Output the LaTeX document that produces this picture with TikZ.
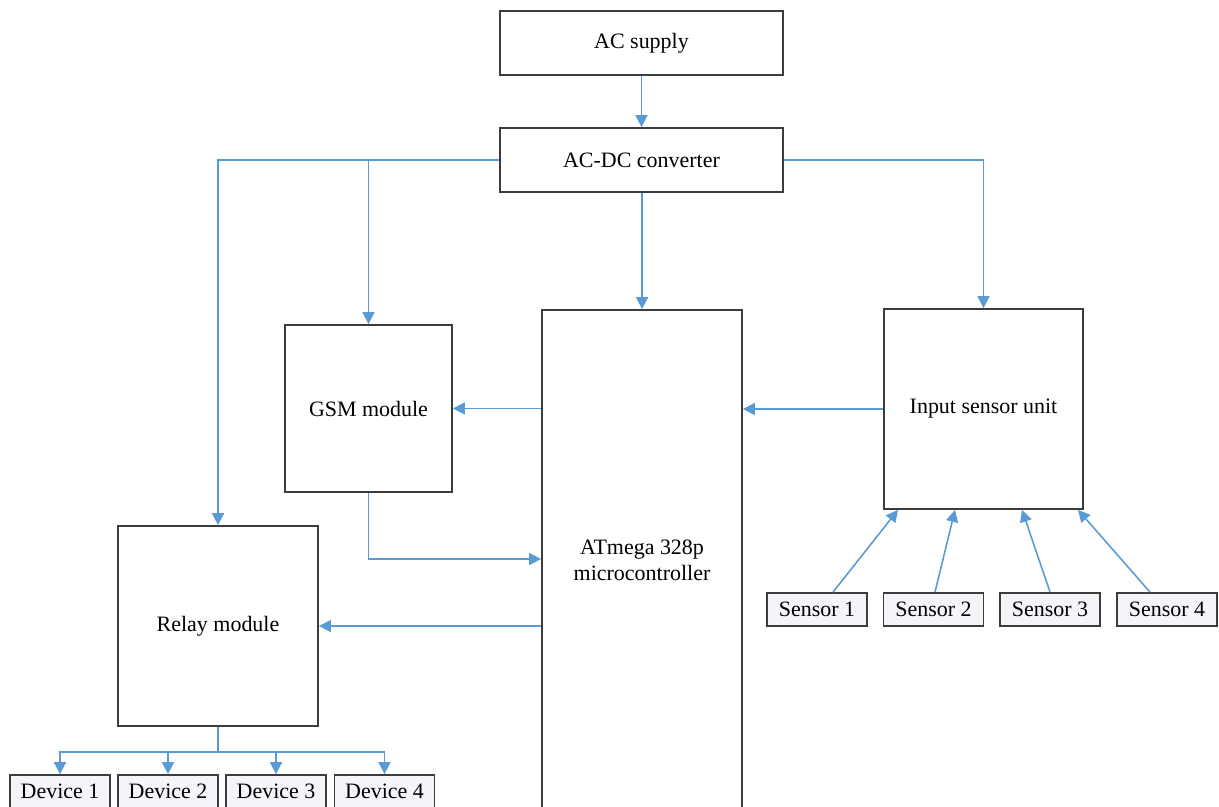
\documentclass[tikz,border=0pt]{standalone}
\usepackage{fontspec}
\setmainfont{Liberation Serif}
\usepackage{tikz}
\usetikzlibrary{positioning, arrows.meta, calc}
\definecolor{line-blue}{HTML}{5B9BD5}
\definecolor{edge-dark}{HTML}{3C3C3C}
\definecolor{tag-fill}{HTML}{F3F5F9}

\def\px{0.02cm}

\begin{document}
\begin{tikzpicture}[
    x=\px, y=-\px,
    block/.style={draw=edge-dark, line width=1pt, fill=white, inner sep=0pt,
        font=\fontsize{12.5}{15}\selectfont, align=center},
    tag/.style={block, fill=tag-fill, minimum width=100*\px, minimum height=33*\px},
    wire/.style={line-blue, line width=0.9pt},
    feed/.style={wire, -{Triangle[width=0.24cm, length=0.24cm]}},
]
    \clip (0,0) rectangle (1219,807);

    % Power chain
    \node[block, minimum width=283*\px, minimum height=64*\px] (supply) at (641.5,43) {AC supply};
    \node[block, minimum width=283*\px, minimum height=64*\px] (conv) at (641.5,160) {AC-DC converter};

    % Main units
    \node[block, minimum width=167*\px, minimum height=167*\px] (gsm) at (368.5,408.5) {GSM module};
    \node[block, minimum width=200*\px, minimum height=500*\px] (mcu) at (642,560)
        {ATmega 328p\\microcontroller};
    \node[block, minimum width=199*\px, minimum height=200*\px] (isu) at (983.5,409) {Input sensor unit};
    \node[block, minimum width=200*\px, minimum height=200*\px] (relay) at (218,626) {Relay module};

    % Sensors and loads
    \foreach \i/\x in {1/817, 2/933.5, 3/1050, 4/1167}
        \node[tag] (s\i) at (\x,609.5) {Sensor \i};
    \foreach \i/\x in {1/60, 2/168, 3/276, 4/384.5}
        \node[tag] (d\i) at (\x,791.5) {Device \i};

    % Supply lines
    \draw[feed] (supply) -- (conv);
    \draw[feed] (conv.west) -| (relay.north);
    \draw[feed] (gsm.north |- conv.west) -- (gsm.north);
    \draw[feed] (conv.south -| mcu.north) -- (mcu.north);
    \draw[feed] (conv.east) -| (isu.north);

    % Signal paths
    \coordinate (mcuin) at (mcu.west |- 0,559);
    \draw[feed] (mcu.west |- gsm.east) -- (gsm.east);
    \draw[feed] (gsm.south) |- (mcuin);
    \draw[feed] (isu.west) -- (isu.west -| mcu.east);
    \draw[feed] (mcu.west |- relay.east) -- (relay.east);

    \draw[feed] ([xshift=16*\px]s1.north) -- ([xshift=-85.5*\px]isu.south);
    \draw[feed] ([xshift=1.5*\px]s2.north) -- ([xshift=-28.5*\px]isu.south);
    \draw[feed] (s3.north) -- ([xshift=38.5*\px]isu.south);
    \draw[feed] ([xshift=-17*\px]s4.north) -- ([xshift=94.5*\px]isu.south);

    % Relay outputs
    \coordinate (bus) at ($(relay.south)+(0,25)$);
    \draw[wire] (relay.south) -- (bus);
    \foreach \i in {1,...,4}
        \draw[feed] (bus) -| (d\i.north);
\end{tikzpicture}
\end{document}
